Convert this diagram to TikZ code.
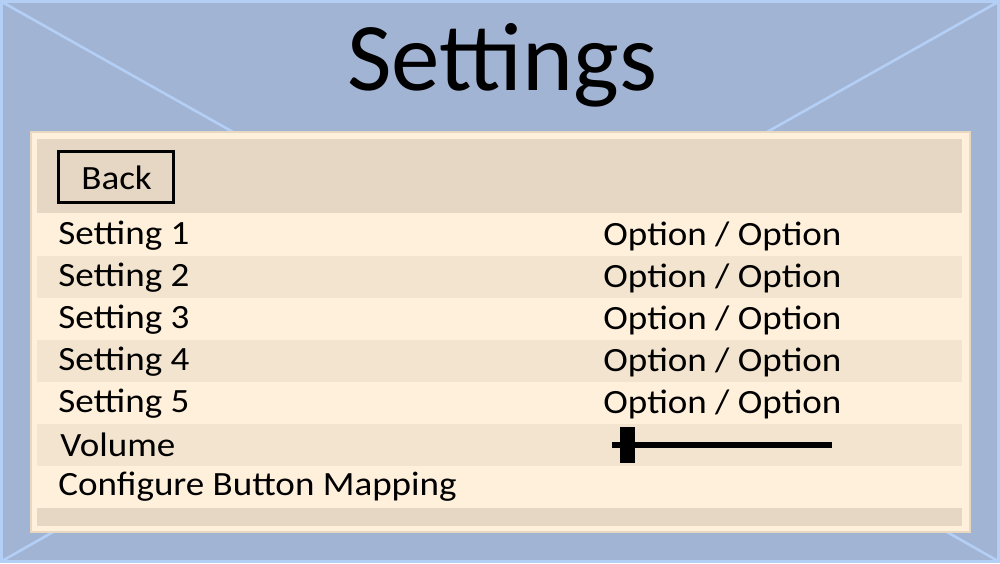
\documentclass[tikz,border=0pt]{standalone}
\usepackage{fontspec}
\setmainfont{Carlito}
\newfontfamily\rowfont{Carlito}[FakeStretch=1.09]
\definecolor{bgblue}{HTML}{A2B4D4}
\definecolor{framebl}{HTML}{B4CFF5}
\definecolor{cream}{HTML}{FFF0DC}
\definecolor{tanedge}{HTML}{E8D8C2}
\definecolor{band}{HTML}{E6D7C4}
\definecolor{rowdark}{HTML}{F3E4D0}
\tikzset{
  rowtext/.style={anchor=base west, inner sep=0pt, font=\rowfont\fontsize{17}{20}\selectfont},
  titletext/.style={anchor=base, inner sep=0pt, font=\fontsize{48.5}{56}\selectfont},
  backbtn/.style={draw=black, line width=1.5pt, inner sep=0pt, minimum width=57.5pt, minimum height=25.5pt},
  diag/.style={draw=framebl, line width=1.3pt},
}
\begin{document}
\begin{tikzpicture}[x=0.5pt,y=-0.5pt]
\useasboundingbox (0,0) rectangle (1000,563);
\fill[bgblue] (0,0) rectangle (1000,563);
\draw[framebl, line width=1.5pt] (1.5,1.5) rectangle (998.5,561.5);
% diagonal frame lines
\coordinate (cTL) at (2,2);
\coordinate (cTR) at (998,2);
\coordinate (cBL) at (2,561);
\coordinate (cBR) at (998,561);
\coordinate (pTL) at (233,132);
\coordinate (pTR) at (767,132);
\coordinate (pBL) at (53,532);
\coordinate (pBR) at (947,532);
\draw[diag] (cTL) -- (pTL);
\draw[diag] (cTR) -- (pTR);
\draw[diag] (cBL) -- (pBL);
\draw[diag] (cBR) -- (pBR);
% title
\node[titletext] (title) at (502,90) {Settings};
% panel
\filldraw[fill=cream, draw=tanedge, line width=1pt] (31,132) rectangle (970,532);
\fill[band] (37,139) rectangle (962,213);
\fill[cream] (37,213) rectangle (962,256);
\fill[rowdark] (37,256) rectangle (962,298);
\fill[cream] (37,298) rectangle (962,340);
\fill[rowdark] (37,340) rectangle (962,382);
\fill[cream] (37,382) rectangle (962,424);
\fill[rowdark] (37,424) rectangle (962,466);
\fill[cream] (37,466) rectangle (962,508);
\fill[band] (37,508) rectangle (962,526);
% back button
\node[backbtn] (back) at (115.5,176.5) {};
\node[rowtext] (backlbl) at (81,189) {Back};
% rows
\node[rowtext] (s1) at (58,244) {Setting 1};
\node[rowtext] (s2) at (58,286) {Setting 2};
\node[rowtext] (s3) at (58,328) {Setting 3};
\node[rowtext] (s4) at (58,370) {Setting 4};
\node[rowtext] (s5) at (58,412) {Setting 5};
\node[rowtext] (vol) at (60,456) {Volume};
\node[rowtext] (cfg) at (58,495) {Configure Button Mapping};
\node[rowtext] (o1) at (603,245) {Option / Option};
\node[rowtext] (o2) at (603,287) {Option / Option};
\node[rowtext] (o3) at (603,329) {Option / Option};
\node[rowtext] (o4) at (603,371) {Option / Option};
\node[rowtext] (o5) at (603,413) {Option / Option};
% slider
\coordinate (sl0) at (612,445);
\coordinate (sl1) at (832,445);
\draw[line width=3pt] (sl0) -- (sl1);
\node[fill=black, inner sep=0pt, minimum width=7.5pt, minimum height=18pt] (knob) at (627.5,445) {};
\end{tikzpicture}
\end{document}
